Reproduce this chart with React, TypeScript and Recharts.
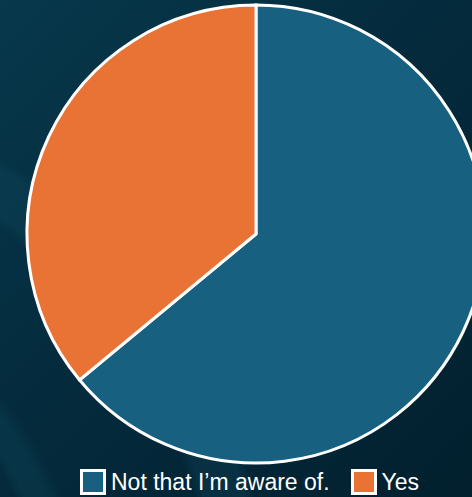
import { PieChart, Pie, Cell, Legend } from "recharts";

const answers = ["Not that I\u2019m aware of.", "Yes"];
const shares = [64, 36];
const colors = ["#17607f", "#e97335"];

const data = answers.map((name, i) => ({ name, value: shares[i] }));

function SquareLegend({ payload }: { payload?: any[] }) {
  return (
    <div style={{ display: "flex", alignItems: "center", paddingLeft: 80, height: 27 }}>
      {(payload || []).map((p: any, i: number) => (
        <div key={i} style={{ display: "flex", alignItems: "center", marginRight: i === 0 ? 21 : 0 }}>
          <span
            style={{
              display: "inline-block",
              boxSizing: "border-box",
              width: 26,
              height: 26,
              background: p.color,
              border: "3px solid #ffffff",
              marginRight: 5,
            }}
          />
          <span
            style={{
              color: "#ffffff",
              fontSize: 23,
              lineHeight: "26px",
              fontFamily: "'Liberation Sans', Arial, sans-serif",
            }}
          >
            {p.value}
          </span>
        </div>
      ))}
    </div>
  );
}

export default function App() {
  return (
    <div
      style={{
        position: "fixed",
        top: 0,
        left: 0,
        width: 472,
        height: 497,
        overflow: "hidden",
        background:
          "radial-gradient(circle at -260px 620px, rgba(0,0,0,0) 0 300px, rgba(14,70,90,0.35) 310px 330px, rgba(0,0,0,0) 345px 470px, rgba(14,70,90,0.35) 480px 520px, rgba(0,0,0,0) 530px), linear-gradient(135deg, #07384c 0%, #042b3d 45%, #02202e 100%)",
      }}
    >
      <PieChart width={472} height={497} margin={{ top: 0, right: 0, bottom: 0, left: 0 }}>
        <Pie
          data={data}
          dataKey="value"
          nameKey="name"
          cx={256}
          cy={234}
          outerRadius={229}
          startAngle={90}
          endAngle={-270}
          stroke="#ffffff"
          strokeWidth={3}
          isAnimationActive={false}
        >
          {data.map((d, i) => (
            <Cell key={d.name} fill={colors[i]} />
          ))}
        </Pie>
        <Legend
          verticalAlign="bottom"
          align="left"
          wrapperStyle={{ bottom: 2, left: 0, width: 472 }}
          content={<SquareLegend />}
        />
      </PieChart>
    </div>
  );
}
